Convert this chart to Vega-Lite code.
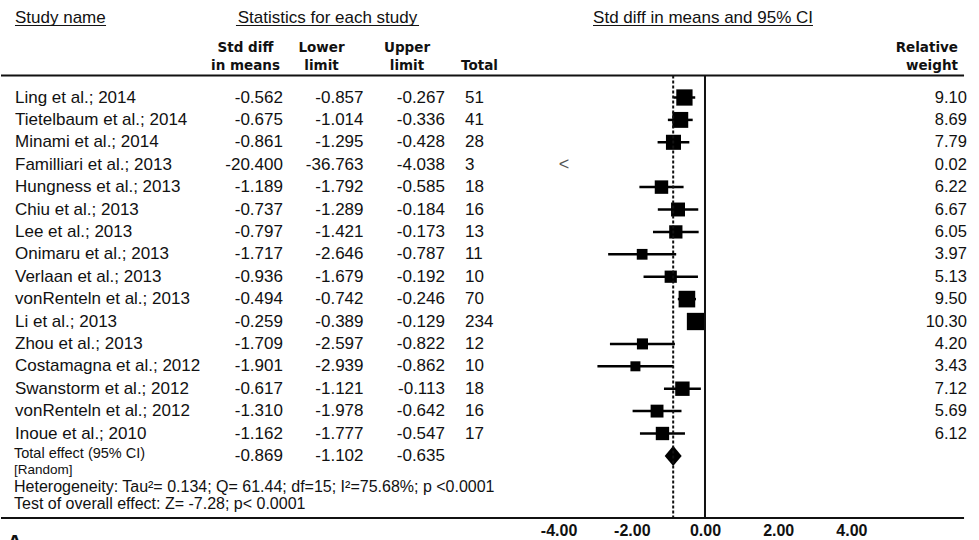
{
  "$schema": "https://vega.github.io/schema/vega-lite/v6.json",
  "width": 979,
  "height": 518,
  "padding": 0,
  "autosize": {"type": "pad"},
  "background": "white",
  "config": {
    "view": {"stroke": null},
    "locale": {"number": {"decimal": ".", "thousands": ",", "grouping": [3], "currency": ["$", ""], "minus": "-"}},
    "text": {"font": "Liberation Sans", "fontSize": 17, "color": "#111", "baseline": "middle"}
  },
  "datasets": {
    "studies": [
      {"name": "Ling et al.; 2014", "smd": -0.562, "lower": -0.857, "upper": -0.267, "total": 51, "weight": 9.10},
      {"name": "Tietelbaum et al.; 2014", "smd": -0.675, "lower": -1.014, "upper": -0.336, "total": 41, "weight": 8.69},
      {"name": "Minami et al.; 2014", "smd": -0.861, "lower": -1.295, "upper": -0.428, "total": 28, "weight": 7.79},
      {"name": "Familliari et al.; 2013", "smd": -20.400, "lower": -36.763, "upper": -4.038, "total": 3, "weight": 0.02},
      {"name": "Hungness et al.; 2013", "smd": -1.189, "lower": -1.792, "upper": -0.585, "total": 18, "weight": 6.22},
      {"name": "Chiu et al.; 2013", "smd": -0.737, "lower": -1.289, "upper": -0.184, "total": 16, "weight": 6.67},
      {"name": "Lee et al.; 2013", "smd": -0.797, "lower": -1.421, "upper": -0.173, "total": 13, "weight": 6.05},
      {"name": "Onimaru et al.; 2013", "smd": -1.717, "lower": -2.646, "upper": -0.787, "total": 11, "weight": 3.97},
      {"name": "Verlaan et al.; 2013", "smd": -0.936, "lower": -1.679, "upper": -0.192, "total": 10, "weight": 5.13},
      {"name": "vonRenteln et al.; 2013", "smd": -0.494, "lower": -0.742, "upper": -0.246, "total": 70, "weight": 9.50},
      {"name": "Li et al.; 2013", "smd": -0.259, "lower": -0.389, "upper": -0.129, "total": 234, "weight": 10.30},
      {"name": "Zhou et al.; 2013", "smd": -1.709, "lower": -2.597, "upper": -0.822, "total": 12, "weight": 4.20},
      {"name": "Costamagna et al.; 2012", "smd": -1.901, "lower": -2.939, "upper": -0.862, "total": 10, "weight": 3.43},
      {"name": "Swanstorm et al.; 2012", "smd": -0.617, "lower": -1.121, "upper": -0.113, "total": 18, "weight": 7.12},
      {"name": "vonRenteln et al.; 2012", "smd": -1.310, "lower": -1.978, "upper": -0.642, "total": 16, "weight": 5.69},
      {"name": "Inoue et al.; 2010", "smd": -1.162, "lower": -1.777, "upper": -0.547, "total": 17, "weight": 6.12}
    ],
    "pooled": [
      {"name": "Total effect (95% CI)", "smd": -0.869, "lower": -1.102, "upper": -0.635}
    ],
    "blank": [{}]
  },
  "layer": [
    {
      "encoding": {
        "y": {
          "field": "name", "type": "nominal", "axis": null,
          "scale": {
            "type": "point", "padding": 0, "round": false, "range": [97.5, 455.9],
            "domain": ["Ling et al.; 2014", "Tietelbaum et al.; 2014", "Minami et al.; 2014", "Familliari et al.; 2013", "Hungness et al.; 2013", "Chiu et al.; 2013", "Lee et al.; 2013", "Onimaru et al.; 2013", "Verlaan et al.; 2013", "vonRenteln et al.; 2013", "Li et al.; 2013", "Zhou et al.; 2013", "Costamagna et al.; 2012", "Swanstorm et al.; 2012", "vonRenteln et al.; 2012", "Inoue et al.; 2010", "Total effect (95% CI)"]
          }
        }
      },
      "layer": [
        {
          "layer": [
            {"data": {"name": "studies"}, "mark": {"type": "text", "align": "left"},
             "encoding": {"x": {"datum": 1.43, "type": "quantitative", "scale": {"domain": [0, 100]}, "axis": null}, "text": {"field": "name"}}},
            {"data": {"name": "studies"}, "mark": {"type": "text", "align": "right"},
             "encoding": {"x": {"datum": 28.8, "type": "quantitative", "scale": {"domain": [0, 100]}, "axis": null}, "text": {"field": "smd", "type": "quantitative", "format": ".3f"}}},
            {"data": {"name": "studies"}, "mark": {"type": "text", "align": "right"},
             "encoding": {"x": {"datum": 37.03, "type": "quantitative", "scale": {"domain": [0, 100]}, "axis": null}, "text": {"field": "lower", "type": "quantitative", "format": ".3f"}}},
            {"data": {"name": "studies"}, "mark": {"type": "text", "align": "right"},
             "encoding": {"x": {"datum": 45.35, "type": "quantitative", "scale": {"domain": [0, 100]}, "axis": null}, "text": {"field": "upper", "type": "quantitative", "format": ".3f"}}},
            {"data": {"name": "studies"}, "mark": {"type": "text", "align": "left"},
             "encoding": {"x": {"datum": 47.4, "type": "quantitative", "scale": {"domain": [0, 100]}, "axis": null}, "text": {"field": "total", "type": "quantitative", "format": "d"}}},
            {"data": {"name": "studies"}, "mark": {"type": "text", "align": "right", "fontSize": 16.5},
             "encoding": {"x": {"datum": 98.67, "type": "quantitative", "scale": {"domain": [0, 100]}, "axis": null}, "text": {"field": "weight", "type": "quantitative", "format": ".2f"}}},
            {"data": {"name": "pooled"}, "mark": {"type": "text", "align": "left", "fontSize": 14.5, "dy": -1.5},
             "encoding": {"x": {"datum": 1.33, "type": "quantitative", "scale": {"domain": [0, 100]}, "axis": null}, "text": {"field": "name"}}},
            {"data": {"name": "pooled"}, "mark": {"type": "text", "align": "right"},
             "encoding": {"x": {"datum": 28.8, "type": "quantitative", "scale": {"domain": [0, 100]}, "axis": null}, "text": {"field": "smd", "type": "quantitative", "format": ".3f"}}},
            {"data": {"name": "pooled"}, "mark": {"type": "text", "align": "right"},
             "encoding": {"x": {"datum": 37.03, "type": "quantitative", "scale": {"domain": [0, 100]}, "axis": null}, "text": {"field": "lower", "type": "quantitative", "format": ".3f"}}},
            {"data": {"name": "pooled"}, "mark": {"type": "text", "align": "right"},
             "encoding": {"x": {"datum": 45.35, "type": "quantitative", "scale": {"domain": [0, 100]}, "axis": null}, "text": {"field": "upper", "type": "quantitative", "format": ".3f"}}}
          ]
        },
        {
          "layer": [
            {"data": {"name": "studies"}, "transform": [{"filter": "datum.upper >= -4"}],
             "mark": {"type": "rule", "strokeWidth": 2.5, "color": "#000"},
             "encoding": {"x": {"field": "lower", "type": "quantitative", "scale": {"domain": [-19.235, 7.514], "nice": false, "zero": false}, "axis": null}, "x2": {"field": "upper"}}},
            {"data": {"name": "studies"}, "transform": [{"filter": "datum.upper >= -4"}],
             "mark": {"type": "point", "shape": "square", "filled": true, "color": "#000", "opacity": 1, "strokeWidth": 0},
             "encoding": {"x": {"field": "smd", "type": "quantitative", "scale": {"domain": [-19.235, 7.514], "nice": false, "zero": false}, "axis": null},
                          "size": {"field": "weight", "type": "quantitative", "scale": {"domain": [0, 10.3], "range": [0, 300]}, "legend": null}}},
            {"data": {"name": "studies"}, "transform": [{"filter": "datum.upper < -4"}],
             "mark": {"type": "text", "text": "<", "color": "#555", "fontSize": 18, "align": "center"},
             "encoding": {"x": {"datum": -3.85, "type": "quantitative", "scale": {"domain": [-19.235, 7.514], "nice": false, "zero": false}, "axis": null}}},
            {"data": {"name": "pooled"},
             "mark": {"type": "point", "shape": "M-1,0L0,-1.2L1,0L0,1.2Z", "filled": true, "color": "#000", "opacity": 1, "size": 289, "strokeWidth": 0},
             "encoding": {"x": {"field": "smd", "type": "quantitative", "scale": {"domain": [-19.235, 7.514], "nice": false, "zero": false}, "axis": null}}}
          ]
        }
      ],
      "resolve": {"scale": {"x": "independent"}}
    },
    {
      "data": {"name": "blank"},
      "layer": [
        {"mark": {"type": "text", "align": "left", "text": "Study name"},
         "encoding": {"x": {"datum": 1.43, "type": "quantitative", "scale": {"domain": [0, 100]}, "axis": null}, "y": {"datum": 3.38, "type": "quantitative", "scale": {"domain": [0, 100], "reverse": true}, "axis": null}}},
        {"mark": {"type": "text", "align": "center", "text": "Statistics for each study"},
         "encoding": {"x": {"datum": 33.35, "type": "quantitative", "scale": {"domain": [0, 100]}, "axis": null}, "y": {"datum": 3.38, "type": "quantitative", "scale": {"domain": [0, 100], "reverse": true}, "axis": null}}},
        {"mark": {"type": "text", "align": "center", "text": "Std diff in means and 95% CI"},
         "encoding": {"x": {"datum": 71.71, "type": "quantitative", "scale": {"domain": [0, 100]}, "axis": null}, "y": {"datum": 3.38, "type": "quantitative", "scale": {"domain": [0, 100], "reverse": true}, "axis": null}}},
        {"mark": {"type": "rule", "strokeWidth": 1, "color": "#111"},
         "encoding": {"x": {"datum": 1.43, "type": "quantitative", "scale": {"domain": [0, 100]}, "axis": null}, "x2": {"datum": 10.73}, "y": {"datum": 4.92, "type": "quantitative", "scale": {"domain": [0, 100], "reverse": true}, "axis": null}}},
        {"mark": {"type": "rule", "strokeWidth": 1, "color": "#111"},
         "encoding": {"x": {"datum": 24.0, "type": "quantitative", "scale": {"domain": [0, 100]}, "axis": null}, "x2": {"datum": 42.7}, "y": {"datum": 4.92, "type": "quantitative", "scale": {"domain": [0, 100], "reverse": true}, "axis": null}}},
        {"mark": {"type": "rule", "strokeWidth": 1, "color": "#111"},
         "encoding": {"x": {"datum": 60.47, "type": "quantitative", "scale": {"domain": [0, 100]}, "axis": null}, "x2": {"datum": 82.94}, "y": {"datum": 4.92, "type": "quantitative", "scale": {"domain": [0, 100], "reverse": true}, "axis": null}}},
        {"mark": {"type": "text", "align": "center", "text": ["Std diff", "in means"], "font": "DejaVu Sans", "fontWeight": "bold", "fontSize": 13.5, "lineHeight": 18},
         "encoding": {"x": {"datum": 24.97, "type": "quantitative", "scale": {"domain": [0, 100]}, "axis": null}, "y": {"datum": 9.27, "type": "quantitative", "scale": {"domain": [0, 100], "reverse": true}, "axis": null}}},
        {"mark": {"type": "text", "align": "center", "text": ["Lower", "limit"], "font": "DejaVu Sans", "fontWeight": "bold", "fontSize": 13.5, "lineHeight": 18},
         "encoding": {"x": {"datum": 32.74, "type": "quantitative", "scale": {"domain": [0, 100]}, "axis": null}, "y": {"datum": 9.27, "type": "quantitative", "scale": {"domain": [0, 100], "reverse": true}, "axis": null}}},
        {"mark": {"type": "text", "align": "center", "text": ["Upper", "limit"], "font": "DejaVu Sans", "fontWeight": "bold", "fontSize": 13.5, "lineHeight": 18},
         "encoding": {"x": {"datum": 41.47, "type": "quantitative", "scale": {"domain": [0, 100]}, "axis": null}, "y": {"datum": 9.27, "type": "quantitative", "scale": {"domain": [0, 100], "reverse": true}, "axis": null}}},
        {"mark": {"type": "text", "align": "left", "text": "Total", "font": "DejaVu Sans", "fontWeight": "bold", "fontSize": 13.5},
         "encoding": {"x": {"datum": 46.99, "type": "quantitative", "scale": {"domain": [0, 100]}, "axis": null}, "y": {"datum": 12.74, "type": "quantitative", "scale": {"domain": [0, 100], "reverse": true}, "axis": null}}},
        {"mark": {"type": "text", "align": "right", "text": ["Relative", "weight"], "font": "DejaVu Sans", "fontWeight": "bold", "fontSize": 13.5, "lineHeight": 18},
         "encoding": {"x": {"datum": 97.75, "type": "quantitative", "scale": {"domain": [0, 100]}, "axis": null}, "y": {"datum": 9.27, "type": "quantitative", "scale": {"domain": [0, 100], "reverse": true}, "axis": null}}},
        {"mark": {"type": "rule", "strokeWidth": 2, "color": "#111"},
         "encoding": {"x": {"datum": 0, "type": "quantitative", "scale": {"domain": [0, 100]}, "axis": null}, "x2": {"datum": 98.37}, "y": {"datum": 14.58, "type": "quantitative", "scale": {"domain": [0, 100], "reverse": true}, "axis": null}}},
        {"mark": {"type": "rule", "strokeWidth": 2, "color": "#111"},
         "encoding": {"x": {"datum": 0, "type": "quantitative", "scale": {"domain": [0, 100]}, "axis": null}, "x2": {"datum": 98.37}, "y": {"datum": 100, "type": "quantitative", "scale": {"domain": [0, 100], "reverse": true}, "axis": null}}},
        {"mark": {"type": "text", "align": "left", "text": "[Random]", "fontSize": 13.5},
         "encoding": {"x": {"datum": 1.33, "type": "quantitative", "scale": {"domain": [0, 100]}, "axis": null}, "y": {"datum": 90.64, "type": "quantitative", "scale": {"domain": [0, 100], "reverse": true}, "axis": null}}},
        {"mark": {"type": "text", "align": "left", "text": "Heterogeneity: Tau²= 0.134; Q= 61.44; df=15; I²=75.68%; p <0.0001", "fontSize": 16},
         "encoding": {"x": {"datum": 1.33, "type": "quantitative", "scale": {"domain": [0, 100]}, "axis": null}, "y": {"datum": 94.0, "type": "quantitative", "scale": {"domain": [0, 100], "reverse": true}, "axis": null}}},
        {"mark": {"type": "text", "align": "left", "text": "Test of overall effect: Z= -7.28; p< 0.0001", "fontSize": 16},
         "encoding": {"x": {"datum": 1.33, "type": "quantitative", "scale": {"domain": [0, 100]}, "axis": null}, "y": {"datum": 97.25, "type": "quantitative", "scale": {"domain": [0, 100], "reverse": true}, "axis": null}}},
        {"mark": {"type": "text", "align": "left", "text": "A", "fontSize": 22, "fontWeight": "bold"},
         "encoding": {"x": {"datum": 0.6, "type": "quantitative", "scale": {"domain": [0, 100]}, "axis": null}, "y": {"datum": 104.8, "type": "quantitative", "scale": {"domain": [0, 100], "reverse": true}, "axis": null}}}
      ]
    },
    {
      "layer": [
        {"data": {"name": "blank"},
         "mark": {"type": "rule", "strokeWidth": 2, "color": "#111"},
         "encoding": {
           "x": {"datum": 0, "type": "quantitative", "scale": {"domain": [-19.235, 7.514], "nice": false, "zero": false},
                 "axis": {"values": [-4, -2, 0, 2, 4], "format": ".2f", "labelFont": "Liberation Sans", "labelFontWeight": "bold", "labelFontSize": 16, "labelColor": "#111", "ticks": false, "domain": false, "grid": false, "labelPadding": 4, "title": null, "orient": "bottom"}},
           "y": {"datum": 14.58, "type": "quantitative", "scale": {"domain": [0, 100], "reverse": true}, "axis": null},
           "y2": {"datum": 100}}},
        {"data": {"name": "pooled"},
         "mark": {"type": "rule", "strokeWidth": 2, "color": "#111", "strokeDash": [3, 2]},
         "encoding": {
           "x": {"field": "smd", "type": "quantitative", "scale": {"domain": [-19.235, 7.514], "nice": false, "zero": false}},
           "y": {"datum": 14.58, "type": "quantitative", "scale": {"domain": [0, 100], "reverse": true}, "axis": null},
           "y2": {"datum": 100}}}
      ]
    }
  ],
  "resolve": {"scale": {"x": "independent", "y": "independent"}}
}
